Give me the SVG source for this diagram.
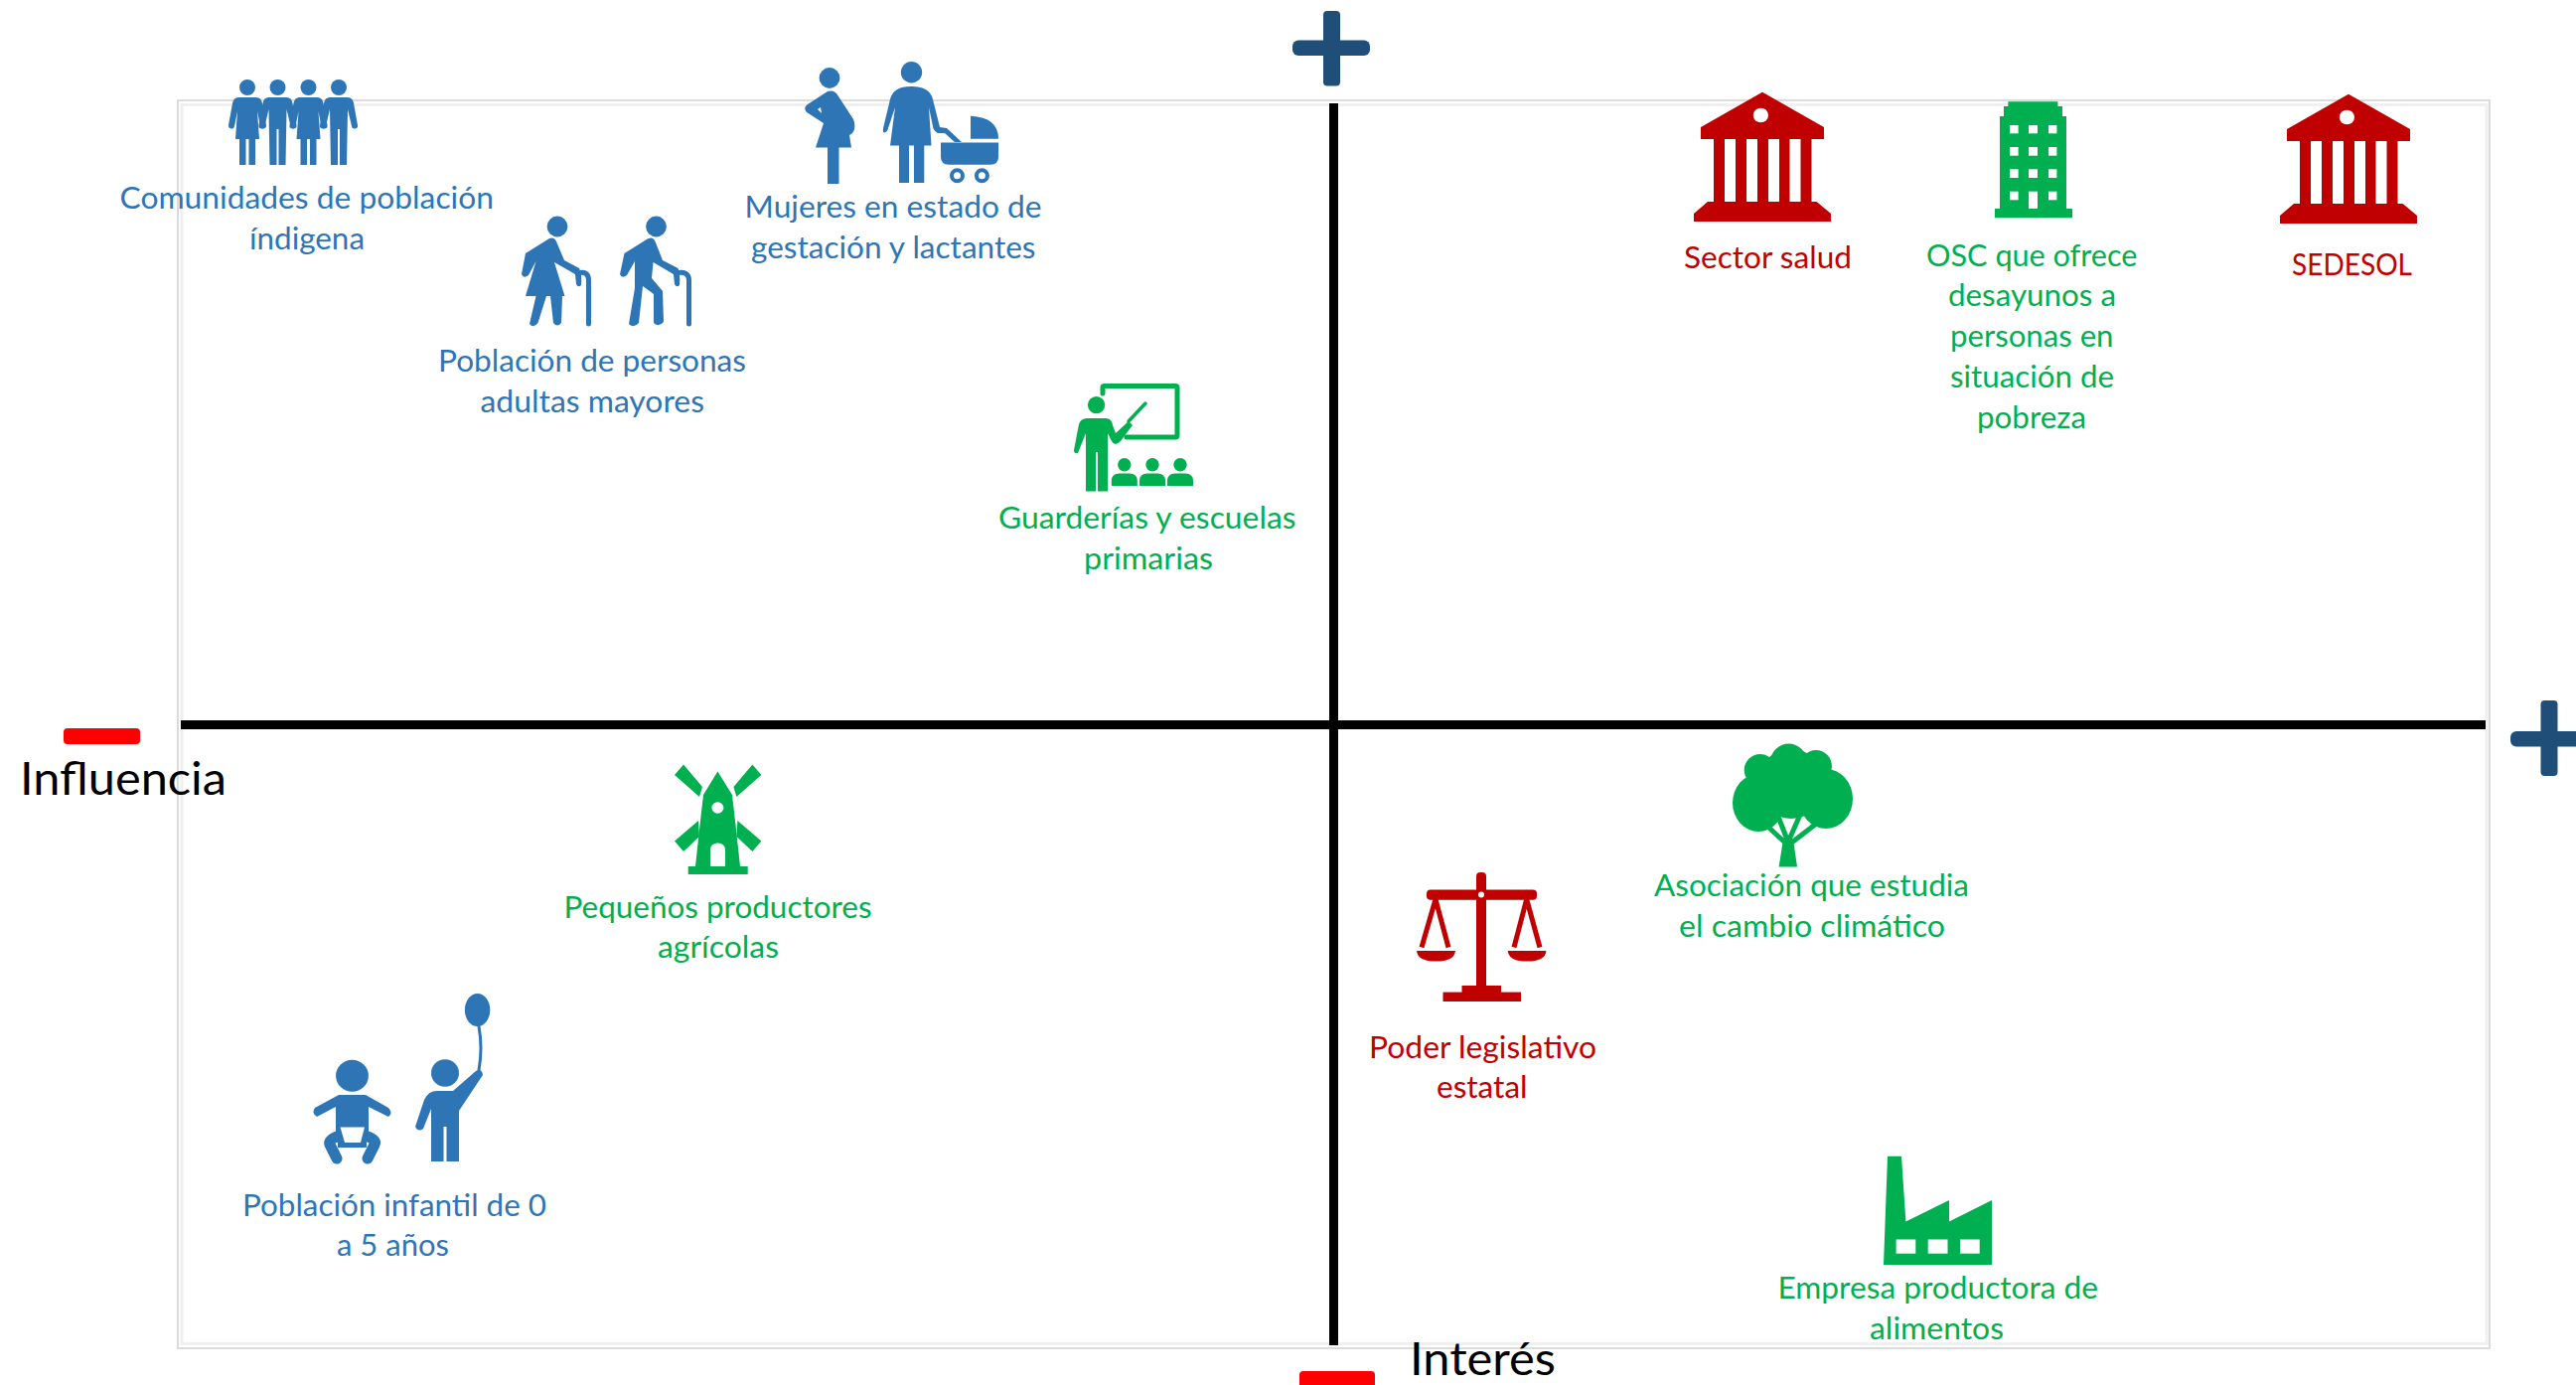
<svg xmlns="http://www.w3.org/2000/svg" width="2593" height="1394" viewBox="0 0 2593 1394">
<style>
text{font-family:"Lato","Carlito","Liberation Sans",sans-serif;font-size:30.5px;transform:translateY(1px)}
.b{fill:#2e75b6}.g{fill:#00b050}.r{fill:#c00000}
.k{fill:#000;font-size:47px}
.bs{stroke:#2e75b6;fill:none;stroke-linecap:round;stroke-linejoin:round}
.gs{stroke:#00b050;fill:none;stroke-linecap:round;stroke-linejoin:round}
.rs{stroke:#c00000;fill:none}
.w{fill:#fff}
</style>
<defs>
<path id="wom" d="M-9,98Q-14,98-15,104L-19,126a3,3 0 0 0 6,1L-10,112L-12,140H-8V166H-1.5V140H1.5V166H8V140H12L10,112L13,127a3,3 0 0 0 6,-1L15,104Q14,98 9,98Z"/>
<path id="man" d="M-9,98Q-14,98-15,104L-19,126a3,3 0 0 0 6,1L-9,110L-8,166H-1V130H1V166H8L9,110L13,127a3,3 0 0 0 6,-1L15,104Q14,98 9,98Z"/>
<g id="bank"><path d="M1774,92.700L1836,128V140H1823.500V203H1828.600L1843,215V223H1705V215L1719,203H1725V140H1712V128Z"/><g class="w"><rect x="1736" y="140" width="11" height="63"/><rect x="1758" y="140" width="11" height="63"/><rect x="1780" y="140" width="11" height="63"/><rect x="1801.500" y="140" width="11" height="63"/><ellipse cx="1772.400" cy="116" rx="7.600" ry="7.300"/></g></g>
<g id="stu"><circle cx="0" cy="467.700" r="6.700"/><path d="M-13,489V484Q-13,476.500-5,476.500H5Q13,476.500 13,484V489Z"/></g>
</defs>
<rect width="2593" height="1394" fill="#fff"/>
<g id="frame" fill="none"><rect x="183" y="105.500" width="2320" height="1247" stroke="#f0f0f0" stroke-width="3"/><rect x="179" y="101" width="2327" height="1256" stroke="#dcdcdc" stroke-width="2"/></g>
<g id="connectors"><rect x="1338" y="104" width="9" height="1250" fill="#000"/><rect x="182" y="725" width="2320" height="9" fill="#000"/></g>
<g id="plus-top" fill="#1f4e79"><rect x="1332" y="11" width="17" height="75.500" rx="4"/><rect x="1301" y="40.500" width="78" height="15.500" rx="6"/></g>
<g id="plus-right" fill="#1f4e79"><rect x="2557.500" y="705" width="17" height="76" rx="4"/><rect x="2527" y="736" width="78" height="15.500" rx="6"/></g>
<g id="minus-left"><rect x="64" y="733" width="77" height="16" rx="4" fill="#f00"/></g>
<g id="minus-bottom"><rect x="1308" y="1380" width="76" height="18" rx="4" fill="#f00"/></g>
<g id="label-influencia"><text class="k" x="20" y="799" textLength="208" lengthAdjust="spacingAndGlyphs">Influencia</text></g>
<g id="label-interes"><text class="k" x="1419" y="1383" textLength="147" lengthAdjust="spacingAndGlyphs">Interés</text></g>

<g id="node-indigena" class="b">
<circle cx="249" cy="88" r="8"/><use href="#wom" x="249"/><circle cx="279.500" cy="88" r="8"/><use href="#man" x="279.500"/><circle cx="310.500" cy="88" r="8"/><use href="#wom" x="310.500"/><circle cx="341" cy="88" r="8"/><use href="#man" x="341"/>
<text x="120.500" y="209" textLength="376.500" lengthAdjust="spacingAndGlyphs">Comunidades de población</text>
<text x="251" y="250" textLength="116" lengthAdjust="spacingAndGlyphs">índigena</text>
</g>
<g id="node-mayores" class="b">
<circle cx="561" cy="228" r="10.400"/>
<path d="M553,240Q558,238 560,243L568,262L583,270Q586,276 585,287Q582,290 580,286L579,276L558,264L568.500,298H566L565,325Q561,330 557,325L554,298H550L541.500,325Q537,331 533,326L539.500,298H529L539.500,263L532,277Q527,281 525,276L529,255Z"/>
<path class="bs" d="M581,275Q592.500,272 592.500,282V326" stroke-width="5"/>
<circle cx="660.500" cy="228" r="10.400"/>
<path d="M652.500,240Q657.500,238 659.500,243L667,262L682.500,270Q685,276 684,287Q681,290 679,286L678,276L657.500,264L656,280L667,293L668,324Q663,330 658,325L658,296L647,288L643,325Q638,331 633,326L639,290V263L631,277Q626,281 624,276L628.500,255Z"/>
<path class="bs" d="M680,275Q693.500,272 693.500,282V326" stroke-width="5"/>
<text x="441" y="373" textLength="310" lengthAdjust="spacingAndGlyphs">Población de personas</text>
<text x="483.500" y="414" textLength="225.500" lengthAdjust="spacingAndGlyphs">adultas mayores</text>
</g>
<g id="node-mujeres" class="b">
<circle cx="835" cy="78.500" r="10.400"/>
<path d="M833,92Q840,90 844,97L859,120Q863,132 855,136L857,148.500H821L829,124L812,113Q808,108 813,105Z"/>
<rect x="833" y="148" width="11.500" height="37"/>
<path class="w" d="M823,110L827,114L826,108Z"/>
<circle cx="917.500" cy="72.700" r="10.700"/>
<path d="M917,87Q936,87 939,100L946,128L953,129L968,143H961L951,134L944,134Q939,131 939,127L935,108L937.500,146.600H930.300V184H920V146.600H915V184H905V146.600H896L901,108L893,132Q888,136 889,129L896,100Q899,87 917,87Z"/>
<path d="M947,143.500H1005V158Q1005,165.700 997,165.700H955Q947,165.700 947,158Z"/>
<path d="M977,116.700Q1005,118 1005,139.700H977Z"/>
<circle cx="963.500" cy="176.800" r="5.500" fill="none" stroke="#2e75b6" stroke-width="4"/>
<circle cx="988.400" cy="176.800" r="5.500" fill="none" stroke="#2e75b6" stroke-width="4"/>
<text x="749.500" y="218" textLength="299" lengthAdjust="spacingAndGlyphs">Mujeres en estado de</text>
<text x="756" y="259" textLength="286.500" lengthAdjust="spacingAndGlyphs">gestación y lactantes</text>
</g>
<g id="node-guarderias" class="g">
<circle cx="1103.600" cy="407.600" r="8.700"/>
<path d="M1094,421H1113Q1119,421 1120,428L1123,436L1136,424L1140,428L1128,444Q1122,450 1119,444L1115,436V494.500H1105V455H1103V494.500H1093V436L1085,456Q1081,457 1081,453L1086,427Q1088,421 1094,421Z"/>
<path class="gs" d="M1136,424L1153,406" stroke-width="3.500"/>
<path class="gs" d="M1110,396V390Q1110,388.500 1112,388.500H1183Q1185,388.500 1185,390V438Q1185,440 1183,440H1134" stroke-width="5" stroke-linecap="butt"/>
<use href="#stu" x="1131.800"/><use href="#stu" x="1160"/><use href="#stu" x="1188"/>
<text x="1005" y="531" textLength="299.500" lengthAdjust="spacingAndGlyphs">Guarderías y escuelas</text>
<text x="1091" y="572" textLength="130" lengthAdjust="spacingAndGlyphs">primarias</text>
</g>
<g id="node-salud" class="r">
<use href="#bank"/>
<text x="1695" y="269" textLength="169" lengthAdjust="spacingAndGlyphs">Sector salud</text>
</g>
<g id="node-osc" class="g">
<path d="M2021.400,102.300H2071.400V107H2076V117H2080V210H2086V219.300H2008V210H2013V117H2017V107H2021.400Z"/>
<g class="w"><rect x="2023" y="126" width="8.600" height="8.300"/><rect x="2042" y="126" width="9" height="8.300"/><rect x="2062" y="126" width="8.400" height="8.300"/><rect x="2023" y="148" width="8.600" height="8.700"/><rect x="2042" y="148" width="9" height="8.700"/><rect x="2062" y="148" width="8.400" height="8.700"/><rect x="2023" y="170.300" width="8.600" height="8.700"/><rect x="2042" y="170.300" width="9" height="8.700"/><rect x="2062" y="170.300" width="8.400" height="8.700"/><rect x="2023" y="192.700" width="8.600" height="8.600"/><rect x="2042" y="192.700" width="9" height="17.300"/><rect x="2062" y="192.700" width="8.400" height="8.600"/></g>
<text x="1939" y="267" textLength="212.500" lengthAdjust="spacingAndGlyphs">OSC que ofrece</text>
<text x="1961" y="307" textLength="169" lengthAdjust="spacingAndGlyphs">desayunos a</text>
<text x="1963" y="348" textLength="164.500" lengthAdjust="spacingAndGlyphs">personas en</text>
<text x="1963" y="389" textLength="165" lengthAdjust="spacingAndGlyphs">situación de</text>
<text x="1990" y="430" textLength="110" lengthAdjust="spacingAndGlyphs">pobreza</text>
</g>
<g id="node-sedesol" class="r">
<use href="#bank" x="590" y="2"/>
<text x="2307" y="276" textLength="121" lengthAdjust="spacingAndGlyphs">SEDESOL</text>
</g>
<g id="node-productores" class="g">
<path d="M688,769.600L679,780L704,802L707,792ZM757.400,769.600L766.400,780L741.400,802L738.400,792ZM679,846.600L688,857L704,842L703,826ZM766.400,846.600L757.400,857L741.400,842L742.400,826Z"/>
<path d="M722.400,776.500L708,800L704,835L700,872H745L741,835L737,800Z"/>
<rect x="692.700" y="872" width="60" height="8"/>
<ellipse class="w" cx="722.400" cy="813" rx="6" ry="5.700"/>
<path class="w" d="M715,872V856Q715,848.500 722.500,848.500Q730,848.500 730,856V872Z"/>
<text x="567.500" y="923" textLength="310" lengthAdjust="spacingAndGlyphs">Pequeños productores</text>
<text x="662" y="963" textLength="122" lengthAdjust="spacingAndGlyphs">agrícolas</text>
</g>
<g id="node-infantil" class="b">
<ellipse cx="480.600" cy="1016.500" rx="12.700" ry="16.500"/>
<path class="bs" d="M482,1033Q486,1055 482,1077" stroke-width="3"/>
<ellipse cx="448" cy="1080" rx="14" ry="13.800"/>
<path d="M440,1098H456L479,1078Q485,1075 486,1082L462,1118V1169H449.500V1134H446.500V1169H434V1116L426,1136Q421,1140 418,1134L427,1107Q431,1098 440,1098Z"/>
<ellipse cx="354.500" cy="1082.700" rx="16.400" ry="16"/>
<path d="M341,1102H368L391,1115Q396,1120 391,1124L371,1114V1140H338V1114L319,1124Q313,1120 317,1115Z"/>
<path class="bs" d="M345,1142Q330,1146 332,1152L339,1166M364,1142Q380,1146 377,1152L370,1166" stroke-width="11"/>
<path d="M340,1134H369V1155H340Z"/>
<path class="w" d="M342.500,1134.500H367L363,1150H347Z"/>
<text x="244" y="1223" textLength="306" lengthAdjust="spacingAndGlyphs">Población infantil de 0</text>
<text x="339" y="1263" textLength="113" lengthAdjust="spacingAndGlyphs">a 5 años</text>
</g>
<g id="node-asociacion" class="g">
<circle cx="1800.500" cy="767" r="18.500"/><circle cx="1771.700" cy="775" r="16"/><circle cx="1828" cy="771" r="16"/><ellipse cx="1770" cy="808" rx="26" ry="29"/><ellipse cx="1838" cy="804" rx="27" ry="30"/><circle cx="1803" cy="789" r="35"/>
<path d="M1795,845H1805L1809,872.600H1790.600Z"/>
<path class="gs" d="M1799,850L1774,827M1801,850L1836,823M1799,845L1790,822M1801,845L1812,820" stroke-width="5"/>
<text x="1665" y="901" textLength="317" lengthAdjust="spacingAndGlyphs">Asociación que estudia</text>
<text x="1690" y="942" textLength="268" lengthAdjust="spacingAndGlyphs">el cambio climático</text>
</g>
<g id="node-legislativo" class="r">
<rect x="1486" y="878" width="10" height="120" rx="4"/>
<rect x="1436" y="895.400" width="111" height="10.300" rx="4"/>
<circle class="w" cx="1491" cy="900.500" r="3"/>
<rect x="1471.500" y="992" width="39.500" height="8"/><rect x="1452.500" y="998.600" width="78.500" height="9.400"/>
<path d="M1426,957H1465Q1464,967.600 1445.500,967.600Q1427,967.600 1426,957ZM1517.700,957H1556.500Q1555.500,967.600 1537,967.600Q1518.700,967.600 1517.700,957Z"/>
<path class="rs" d="M1431,953.500L1445,905L1458,953.500M1524,953.500L1536.700,905L1550,953.500" stroke-width="5"/>
<text x="1378" y="1063.500" textLength="229" lengthAdjust="spacingAndGlyphs">Poder legislativo</text>
<text x="1446" y="1104" textLength="91.500" lengthAdjust="spacingAndGlyphs">estatal</text>
</g>
<g id="node-empresa" class="g">
<path d="M1900,1163.700H1914L1918.400,1229.500L1962,1208V1229.500L2005,1208V1273H1896Z"/>
<g class="w"><rect x="1908.600" y="1247.500" width="19.700" height="14.200"/><rect x="1940.700" y="1247.500" width="19.800" height="14.200"/><rect x="1973" y="1247.500" width="19.700" height="14.200"/></g>
<text x="1789.500" y="1306" textLength="322.500" lengthAdjust="spacingAndGlyphs">Empresa productora de</text>
<text x="1882" y="1347" textLength="135" lengthAdjust="spacingAndGlyphs">alimentos</text>
</g>
</svg>
